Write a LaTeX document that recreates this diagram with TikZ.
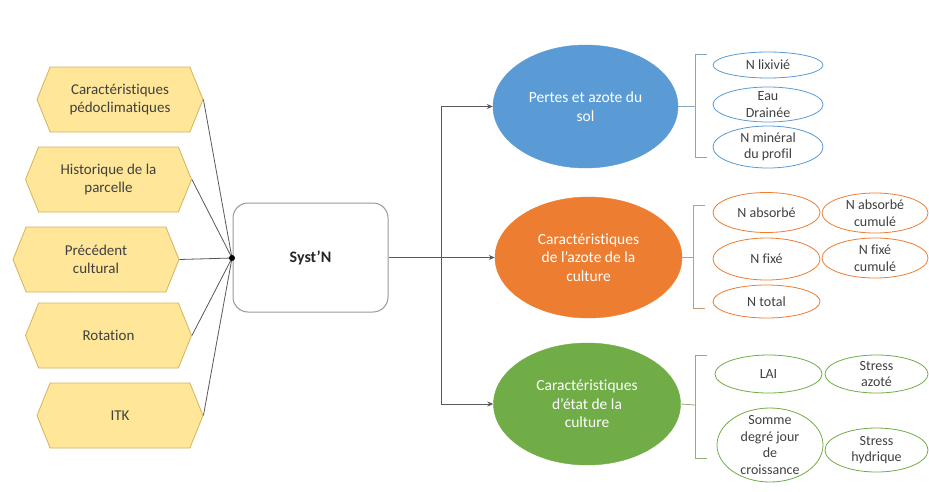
\documentclass[tikz,border=0pt]{standalone}
\usepackage{fontspec}
\setmainfont{Carlito}[Ligatures=NoCommon]
\usetikzlibrary{shapes.geometric,shapes.symbols,arrows.meta}
\definecolor{hexfill}{HTML}{FFE699}
\definecolor{hexdraw}{HTML}{D4B35A}
\definecolor{cblue}{HTML}{5B9BD5}
\definecolor{corange}{HTML}{ED7D31}
\definecolor{cgreen}{HTML}{70AD47}
\definecolor{txt}{HTML}{404040}
\definecolor{linegrey}{HTML}{595959}
\begin{document}
\begin{tikzpicture}[x=1pt,y=-1pt,
  hexa/.style={signal, signal to=west and east, signal pointer angle=136,
    draw=hexdraw, fill=hexfill, line width=0.8pt, minimum width=166pt, minimum height=65pt,
    inner sep=0pt, align=center, text=txt, font=\fontsize{15}{18}\selectfont},
  sysbox/.style={draw=black!40, line width=1pt, rounded corners=15pt, fill=white,
    minimum width=155pt, minimum height=109pt, text=black!85, font=\fontsize{16}{19}\selectfont\bfseries},
  bigell/.style={ellipse, fill=#1, draw=#1, inner sep=0pt, align=center, text=white,
    font=\fontsize{15.5}{18.5}\selectfont},
  smell/.style={ellipse, draw=#1, line width=0.8pt, fill=white, inner xsep=0pt, inner ysep=-14pt,
    align=center, text=txt, font=\fontsize{14}{16.5}\selectfont},
  conn/.style={draw=linegrey, line width=0.8pt},
  arr/.style={draw=linegrey, line width=0.8pt, -{Stealth[length=6pt,width=5pt,fill=black]}},
  brk/.style={draw=#1!55!gray!80, line width=0.8pt}
]
\useasboundingbox (0,0) rectangle (929,491);
\fill[white] (0,0) rectangle (929,491);

% left hexagons
\node[hexa] (h1) at (120,99.5) {Caractéristiques\\pédoclimatiques};
\node[hexa] (h2) at (108.5,179.5) {Historique de la\\parcelle};
\node[hexa] (h3) at (96,259.5) {Précédent\\cultural};
\node[hexa] (h4) at (108.5,335.5) {Rotation};
\node[hexa] (h5) at (120,415.5) {ITK};

\coordinate (J) at (232,258);
\foreach \h in {h1,h2,h3,h4,h5} \draw[conn] (\h.east) -- (J);

% central box
\node[sysbox] (S) at (310.5,257.5) {Syst’N};
\fill[black] (J) circle (3pt);

% big ellipses
\node[bigell=cblue, minimum width=185pt, minimum height=123pt] (B) at (585.5,106.5) {Pertes et azote du\\sol};
\node[bigell=corange, minimum width=187pt, minimum height=121pt] (O) at (588.5,257.5) {Caractéristiques\\de l’azote de la\\culture};
\node[bigell=cgreen, minimum width=187pt, minimum height=122pt] (G) at (587,404) {Caractéristiques\\d’état de la\\culture};

\coordinate (split) at (441,257.5);
\draw[conn] (S.east) -- (split);
\draw[arr] (split) |- (B.west);
\draw[arr] (split) -- (O.west);
\draw[arr] (split) |- (G.west);

% brackets
\coordinate (bb) at (695,106.5);
\draw[brk=cblue] (707,54) -- (695,54) -- (695,157) -- (707,157);
\draw[brk=cblue] (B.east) -- (bb);
\coordinate (ob) at (693,257.5);
\draw[brk=corange] (705,205) -- (693,205) -- (693,308) -- (705,308);
\draw[brk=corange] (O.east) -- (ob);
\coordinate (gb) at (695,405);
\draw[brk=cgreen] (707,355) -- (695,355) -- (695,458) -- (707,458);
\draw[brk=cgreen] (G.east) -- (gb);

% small ellipses
\node[smell=cblue, minimum width=110pt, minimum height=26pt] (b1) at (768,65) {N lixivié};
\node[smell=cblue, minimum width=110pt, minimum height=35pt] (b2) at (768,104.5) {Eau\\Drainée};
\node[smell=cblue, minimum width=110pt, minimum height=42pt] (b3) at (768,147) {N minéral\\du profil};

\node[smell=corange, minimum width=107pt, minimum height=40pt] (o1) at (766.5,212.5) {N absorbé};
\node[smell=corange, minimum width=106pt, minimum height=40pt] (o2) at (875,213) {N absorbé\\cumulé};
\node[smell=corange, minimum width=107pt, minimum height=42pt] (o3) at (766.5,259) {N fixé};
\node[smell=corange, minimum width=106pt, minimum height=40pt] (o4) at (875,258) {N fixé\\cumulé};
\node[smell=corange, minimum width=107pt, minimum height=33pt] (o5) at (766.5,301.5) {N total};

\node[smell=cgreen, minimum width=107pt, minimum height=38pt] (g1) at (768.5,374) {LAI};
\node[smell=cgreen, minimum width=103pt, minimum height=38pt] (g2) at (876.5,374) {Stress\\azoté};
\node[smell=cgreen, minimum width=106pt, minimum height=74pt] (g3) at (770,445) {Somme\\degré jour\\de\\croissance};
\node[smell=cgreen, minimum width=103pt, minimum height=44pt] (g4) at (876.5,450) {Stress\\hydrique};
\end{tikzpicture}
\end{document}
